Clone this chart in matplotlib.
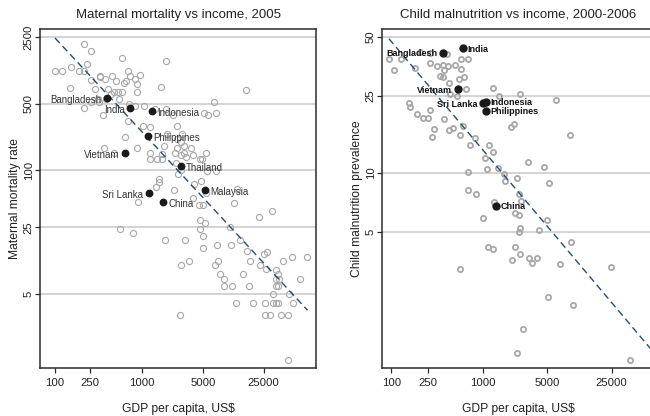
import numpy as np
import matplotlib
matplotlib.use("Agg")
import matplotlib.pyplot as plt
from matplotlib.ticker import FixedLocator, NullLocator, FixedFormatter

plt.rcParams["font.family"] = ["Liberation Sans", "DejaVu Sans"]

# ---------------- Maternal mortality (deaths per 100,000 births) ----------------
mm_gdp = [217, 257, 583, 1888, 233, 153, 101, 120, 189, 217, 697, 721, 948, 838,
          326, 332, 456, 372, 259, 507, 627, 655, 877, 150, 286, 403, 472, 530,
          594, 437, 877, 1652, 15660, 315, 382, 540, 321, 262, 703, 824, 215,
          1064, 1409, 1888, 6730, 7100, 5780, 5120, 2250, 359, 697, 1018, 1225,
          2500, 631, 1936, 2910, 2520, 2830, 1775, 362, 476, 883, 2545, 3070,
          3660, 3070, 2415, 3180, 1247, 1713, 1236, 1486, 1698, 2780, 3820, 4640,
          4850, 5400, 2480, 2810, 2620, 5590, 7100, 1580, 1567, 1435, 2310, 4720,
          3930, 5450, 3860, 12360, 11310, 899, 4480, 4980, 31480,
          22130, 558, 781, 4600, 5250, 4600, 4980, 10260, 1837, 3090, 13490,
          5070, 7280, 10450, 16250, 25230, 27100, 2830, 3500, 6970, 7540, 17580,
          22480, 26600, 41800, 52960, 79400, 7950, 8690, 8690, 10820, 16970,
          14620, 34360, 36560, 34970, 37580, 34970, 37000, 32070, 49000, 64900,
          12130, 18700, 25700, 31780, 34360, 36560, 54400, 2760, 25700, 29850,
          40000, 48100, 48100]
mm_rate = [2130, 1795, 1503, 1410, 1310, 1216, 1104, 1104, 1104, 1104, 1104, 979,
           995, 910, 979, 948, 970, 910, 887, 853, 832, 853, 806, 726, 708, 708,
           664, 664, 664, 637, 658, 743, 692, 565, 556, 565, 516, 525, 500, 472,
           450, 469, 442, 442, 520, 402, 383, 402, 383, 380, 324, 291, 284, 291,
           221, 239, 238, 210, 199, 180, 172, 151, 172, 172, 180, 172, 152, 151,
           138, 150, 146, 132, 132, 132, 144, 143, 132, 130, 150, 119, 100, 91,
           97, 97, 81, 75, 67, 62, 77, 72, 58, 51, 64, 45, 46, 43, 43, 37,
           32, 24, 22, 30, 28, 24.2, 20.3, 25.2, 18.3, 18.3, 18.3, 15.1, 16.2,
           16.2, 14.1, 13.2, 13.9, 10.2, 11.2, 10.2, 11.2, 11.2, 10.2, 9.1, 11.2,
           12.2, 12.2, 8.2, 7.1, 6.1, 6.1, 6.1, 8.2, 9.0, 8.2, 7.1, 7.1, 6.1, 6.1,
           5.0, 5.0, 7.1, 4.06, 4.06, 4.06, 4.06, 4.06, 4.06, 4.06, 3.0, 3.0,
           3.0, 3.0, 3.0, 1.01]

mm_names = ["Bangladesh", "India", "Indonesia", "Philippines", "Vietnam",
            "Thailand", "Sri Lanka", "Malaysia", "China"]
mm_hl_gdp = [393, 734, 1303, 1161, 643, 2780, 1193, 5300, 1729]
mm_hl_rate = [578, 450, 422, 230, 150, 111, 58, 62, 46]

mm_fit_gdp = [100, 80000]
mm_fit_rate = [2440, 3.37]

# ---------------- Child malnutrition prevalence (%) ----------------
cm_gdp = [95, 128, 107, 179, 206, 265, 404, 566, 681, 265, 314, 365, 415, 487,
          571, 342, 365, 378, 421, 543, 616, 653, 520, 440, 156, 160, 190, 219,
          248, 265, 372, 294, 279, 429, 467, 557, 605, 806, 722, 1158, 1038,
          1280, 1109, 1465, 1663, 1734, 2328, 676, 687, 826, 1303, 2449, 2576,
          3050, 1280, 1503, 2535, 2000, 2177, 6240, 8880, 4645, 5265,
          2234, 2428, 1003, 4965, 2535, 2428, 4027, 1138, 1270, 2193, 2489,
          2070, 3126, 3857, 3373, 6840, 9100, 557, 24770, 5090, 9420, 2685,
          2328, 39720]
cm_prev = [38.5, 38.5, 33.8, 34.7, 41.7, 41.4, 40.9, 38.5, 38.5, 36.8, 35.3, 36.0,
           35.3, 35.9, 34.3, 31.6, 31.0, 33.7, 29.0, 30.5, 31.1, 27.1, 24.9, 25.6,
           22.9, 21.8, 20.1, 19.1, 19.1, 21.2, 19.0, 16.8, 15.4, 16.6, 17.0, 15.7,
           17.5, 15.2, 13.9, 13.9, 12.0, 12.8, 10.5, 10.6, 9.93, 9.06, 9.42, 10.1,
           8.2, 7.83, 7.15, 7.83, 7.17, 11.4, 27.5, 24.8, 25.6, 17.2, 17.8, 23.6,
           15.7, 10.7, 8.85,
           6.22, 6.11, 5.9, 5.72, 5.2, 5.0, 5.08, 4.19, 4.09, 4.19, 3.86, 3.6,
           3.69, 3.69, 3.44, 3.42, 4.43, 3.23, 3.31, 2.31, 2.1, 1.59, 1.19, 1.1]

cm_names = ["India", "Bangladesh", "Vietnam", "Sri Lanka", "Indonesia",
            "Philippines", "China"]
cm_hl_gdp = [605, 365, 525, 986, 1081, 1074, 1393]
cm_hl_prev = [43.7, 41.2, 26.9, 22.8, 23.3, 20.9, 6.8]

cm_fit_gdp = [94, 72000]
cm_fit_prev = [49, 1.2]

x_ticks = [100, 250, 1000, 5000, 25000]
mm_yticks = [5, 25, 100, 500, 2500]
cm_yticks = [5, 10, 25, 50]

# label sides (left of dot / right of dot)
mm_sides = {"Bangladesh": "L", "India": "L", "Indonesia": "R", "Philippines": "R",
            "Vietnam": "L", "Thailand": "R", "Sri Lanka": "L", "Malaysia": "R",
            "China": "R"}
cm_sides = {"India": "R", "Bangladesh": "L", "Vietnam": "L", "Sri Lanka": "L",
            "Indonesia": "R", "Philippines": "R", "China": "R"}

W, H = 650, 416
fig = plt.figure(figsize=(W / 100, H / 100), dpi=100)
fig.patch.set_facecolor("white")

ax1 = fig.add_axes([40 / W, (H - 368) / H, 276 / W, 339 / H])
ax2 = fig.add_axes([382 / W, (H - 368) / H, 272 / W, 339 / H])

SPINE = "#2b2b2b"
GRID = "#c8c8c8"
HOLLOW = "#a8a8a8"
FIT = "#1f4e79"


def style_axis(ax, yticks, ylabel, title, xlim, ylim, spines_right=True):
    ax.set_xscale("log")
    ax.set_yscale("log")
    ax.set_xlim(*xlim)
    ax.set_ylim(*ylim)
    ax.xaxis.set_major_locator(FixedLocator(x_ticks))
    ax.xaxis.set_major_formatter(FixedFormatter([str(t) for t in x_ticks]))
    ax.xaxis.set_minor_locator(NullLocator())
    ax.yaxis.set_major_locator(FixedLocator(yticks))
    ax.yaxis.set_major_formatter(FixedFormatter([str(t) for t in yticks]))
    ax.yaxis.set_minor_locator(NullLocator())
    for t in yticks:
        ax.axhline(t, color=GRID, lw=1.1, zorder=0)
    for s in ax.spines.values():
        s.set_color(SPINE)
        s.set_linewidth(1.1)
    if not spines_right:
        ax.spines["right"].set_visible(False)
    ax.tick_params(axis="both", direction="out", length=3.5, width=0.9,
                   color=SPINE, labelsize=8.2, labelcolor="#222222")
    ax.tick_params(axis="x", pad=4)
    ax.tick_params(axis="y", pad=1)
    for lab in ax.get_yticklabels():
        lab.set_rotation(90)
        lab.set_va("center")
    ax.set_xlabel("GDP per capita, US$", fontsize=8.7, color="#222222", labelpad=10.5)
    ax.set_ylabel(ylabel, fontsize=8.7, color="#222222", labelpad=2)
    ax.set_title(title, fontsize=9.5, color="#222222", pad=8)


style_axis(ax1, mm_yticks, "Maternal mortality rate",
           "Maternal mortality vs income, 2005", (67.2, 100000), (0.835, 3034))
style_axis(ax2, cm_yticks, "Child malnutrition prevalence",
           "Child malnutrition vs income, 2000-2006", (79.1, 72300), (1.0, 54.9),
           spines_right=False)

# left panel
ax1.plot(mm_gdp, mm_rate, "o", ms=4.4, mfc="none", mec=HOLLOW, mew=0.8,
         zorder=2)
ax1.plot(mm_fit_gdp, mm_fit_rate, color=FIT, lw=1.0, dashes=(5, 3), zorder=3)
ax1.plot(mm_hl_gdp, mm_hl_rate, "o", ms=4.6, color="#1a1a1a", zorder=4)
for name, gx, gy in zip(mm_names, mm_hl_gdp, mm_hl_rate):
    left = mm_sides[name] == "L"
    ax1.annotate(name, (gx, gy), xytext=(-4 if left else 4, -1.5),
                 textcoords="offset points", ha="right" if left else "left",
                 va="center", fontsize=7, color="#333333", zorder=5)

# right panel
ax2.plot(cm_gdp, cm_prev, "o", ms=3.7, mfc="none", mec=HOLLOW, mew=1.3,
         zorder=2)
ax2.plot(cm_fit_gdp, cm_fit_prev, color=FIT, lw=1.0, dashes=(5, 3), zorder=3)
ax2.plot(cm_hl_gdp, cm_hl_prev, "o", ms=5.0, color="#1a1a1a", zorder=4)
for name, gx, gy in zip(cm_names, cm_hl_gdp, cm_hl_prev):
    left = cm_sides[name] == "L"
    ax2.annotate(name, (gx, gy), xytext=(-4 if left else 3, -0.5),
                 textcoords="offset points", ha="right" if left else "left",
                 va="center", fontsize=6.5, fontweight="bold", color="#111111",
                 zorder=5)

fig.savefig("out.png", dpi=100, facecolor="white")
